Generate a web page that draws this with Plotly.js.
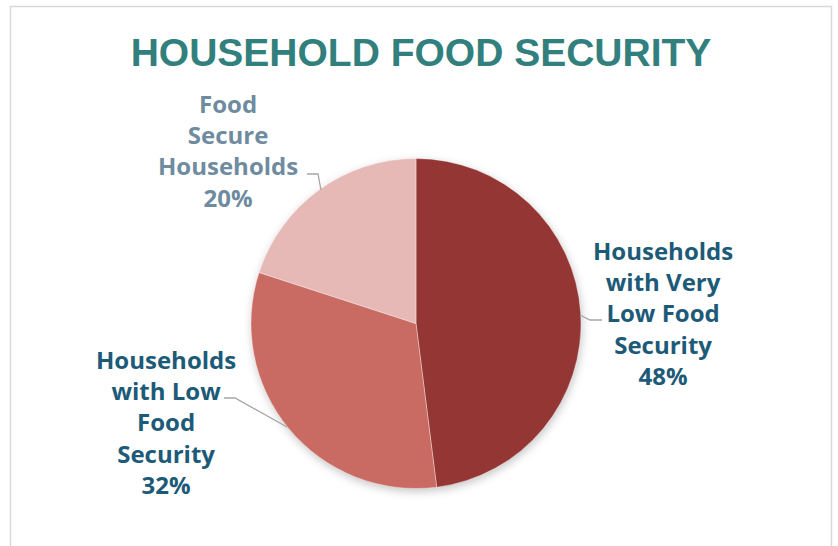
<!DOCTYPE html>
<html>
<head>
<meta charset="utf-8">
<script src="https://cdn.plot.ly/plotly-3.0.1.min.js"></script>
<style>
  html, body { margin: 0; padding: 0; background: #ffffff; }
  #chart { width: 838px; height: 546px; }
  .pielayer .trace { filter: drop-shadow(1px 3px 4px rgba(0,0,0,0.22)); }
</style>
</head>
<body>
<div id="chart"></div>
<script>
// ---- data ----
const categories = [
  "Households with Very Low Food Security",
  "Households with Low Food Security",
  "Food Secure Households"
];
const displayLabels = [
  "Households<br>with Very<br>Low Food<br>Security",
  "Households<br>with Low<br>Food<br>Security",
  "Food<br>Secure<br>Households"
];
const values = [48, 32, 20];
const sliceColors = ["#943634", "#C96B63", "#E6B9B6"];
const labelColors = ["#1D5A78", "#1D5A78", "#6F8BA0"];
const chartTitle = "HOUSEHOLD FOOD SECURITY";

// ---- layout helpers (pixel -> paper) ----
const W = 838, H = 546;
const px = x => x / W;
const py = y => 1 - y / H;

// label placement (layout, pixel centres)
const labelPos = [
  { x: 663, y: 313 },
  { x: 166, y: 422 },
  { x: 228, y: 150 }
];
// leader lines (layout, pixel paths)
const leaders = [
  [[580, 315], [590, 320], [602, 320]],
  [[287, 427], [235, 398], [224, 398]],
  [[321, 190], [318, 174], [307, 174]]
];

const total = values.reduce((a, b) => a + b, 0);

const trace = {
  type: "pie",
  labels: categories,
  values: values,
  sort: false,
  direction: "clockwise",
  rotation: 0,
  textinfo: "none",
  hoverinfo: "label+percent",
  marker: { colors: sliceColors, line: { color: "rgba(255,255,255,0.6)", width: 0.6 } },
  domain: { x: [px(251), px(581)], y: [py(488.5), py(158.5)] },
  showlegend: false
};

const annotations = values.map((v, i) => ({
  xref: "paper", yref: "paper",
  x: px(labelPos[i].x), y: py(labelPos[i].y),
  xanchor: "center", yanchor: "middle",
  showarrow: false,
  align: "center",
  text: displayLabels[i] + "<br>" + Math.round(v / total * 100) + "%",
  font: { family: "'Open Sans', sans-serif", size: 24, color: labelColors[i], weight: 700 }
}));

const shapes = leaders.map(pts => ({
  type: "path",
  xref: "paper", yref: "paper",
  path: pts.map((p, j) => (j === 0 ? "M" : "L") + px(p[0]) + "," + py(p[1])).join(" "),
  line: { color: "#A6A6A6", width: 1.3 }
}));
// outer chart frame
shapes.push({
  type: "rect", xref: "paper", yref: "paper",
  x0: px(10.5), x1: px(831.5), y0: py(560), y1: py(6.5),
  line: { color: "#D9D9D9", width: 1.5 }, fillcolor: "rgba(0,0,0,0)"
});

const layout = {
  width: W, height: H,
  margin: { l: 0, r: 0, t: 0, b: 0 },
  paper_bgcolor: "#ffffff",
  plot_bgcolor: "#ffffff",
  title: {
    text: "<b>" + chartTitle + "</b>",
    x: px(421), y: py(52), xref: "paper", yref: "paper",
    xanchor: "center", yanchor: "middle",
    font: { family: "'Liberation Sans', Arial, sans-serif", size: 39, color: "#31807E" }
  },
  annotations: annotations,
  shapes: shapes,
  showlegend: false
};

Plotly.newPlot("chart", [trace], layout, { displayModeBar: false, staticPlot: true });
</script>
</body>
</html>
